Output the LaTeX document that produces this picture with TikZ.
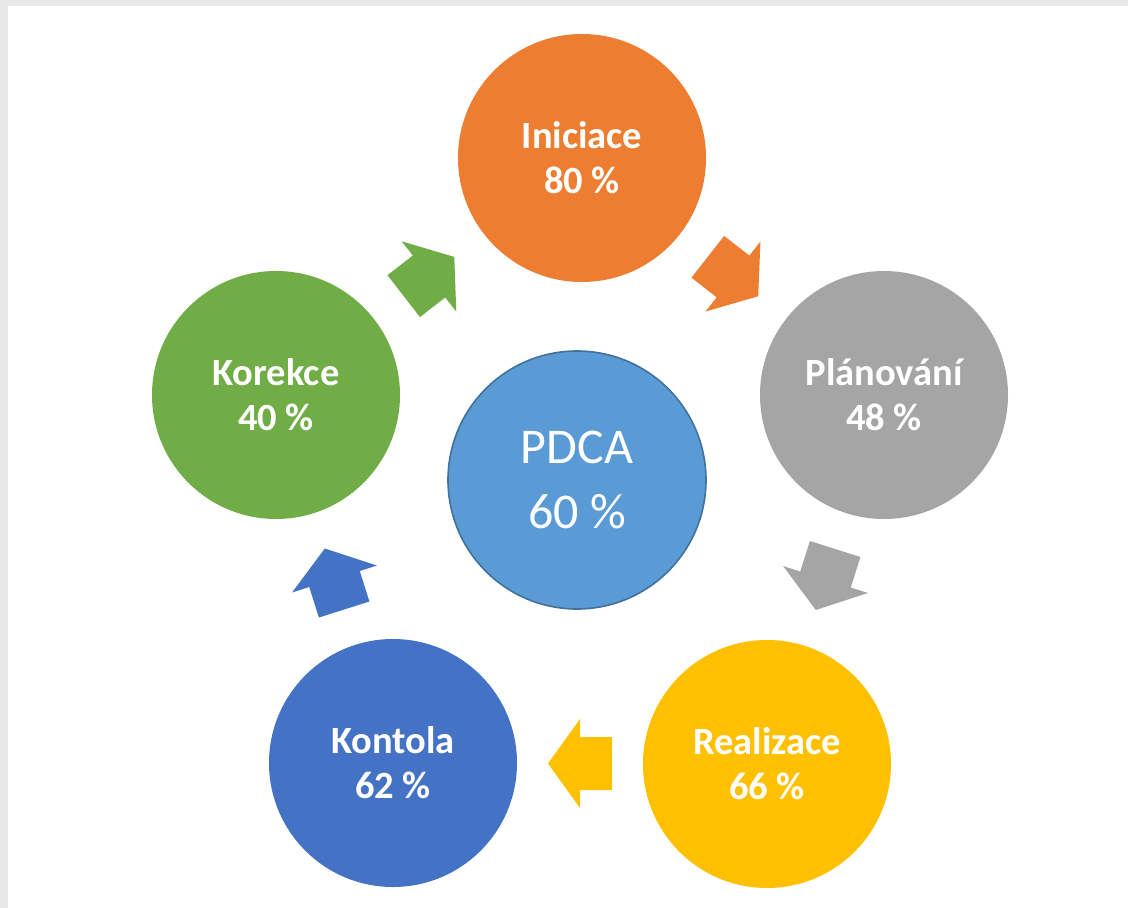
\documentclass[tikz,border=0pt]{standalone}
\usepackage{fontspec}
\setmainfont{Carlito}
\usetikzlibrary{calc}
\definecolor{cOrange}{HTML}{ED7D31}
\definecolor{cGray}{HTML}{A5A5A5}
\definecolor{cYellow}{HTML}{FFC000}
\definecolor{cBlue}{HTML}{4472C4}
\definecolor{cGreen}{HTML}{70AD47}
\definecolor{cCenter}{HTML}{5B9BD5}
\definecolor{cCenterBorder}{HTML}{41719C}
\definecolor{cFrame}{HTML}{E8E8E8}
\tikzset{
  phase/.style={circle, minimum size=248, inner sep=0pt, text=white, align=center,
    font=\bfseries\fontsize{38.5}{45}\selectfont},
  core/.style={circle, minimum size=258, inner sep=0pt, text=white, align=center,
    fill=cCenter, draw=cCenterBorder, line width=1.6pt,
    font=\fontsize{50}{65}\selectfont},
  pics/blockarrow/.style={code={
    \fill[#1] (-32,-26.5) -- (0,-26.5) -- (0,-44.5) -- (32,0) -- (0,44.5) -- (0,26.5) -- (-32,26.5) -- cycle;
  }}
}
\begin{document}
\begin{tikzpicture}[x=1pt,y=-1pt]
\useasboundingbox (0,0) rectangle (1128,908);
\fill[cFrame] (0,0) rectangle (1128,908);
\fill[white] (8,6) rectangle (1128,908);

\node[phase, fill=cOrange] (ini) at (582,158) {Iniciace\\80 \%};
\node[phase, fill=cGray]   (pla) at (884,395) {Plánování\\48 \%};
\node[phase, fill=cYellow] (rea) at (767,764) {Realizace\\66 \%};
\node[phase, fill=cBlue]   (kon) at (393,763) {Kontola\\62 \%};
\node[phase, fill=cGreen]  (kor) at (276,395) {Korekce\\40 \%};
\node[core] (pdca) at (577,480) {PDCA\\60 \%};

\pic[rotate=-38.1] at ($(ini)!0.5!(pla)$) {blockarrow=cOrange};
\pic[rotate=-107.6] at ($(pla)!0.5!(rea)$) {blockarrow=cGray};
\pic[rotate=180] at ($(rea)!0.5!(kon)$) {blockarrow=cYellow};
\pic[rotate=107.6] at ($(kon)!0.5!(kor)$) {blockarrow=cBlue};
\pic[rotate=37.8] at ($(kor)!0.5!(ini)$) {blockarrow=cGreen};
\end{tikzpicture}
\end{document}
